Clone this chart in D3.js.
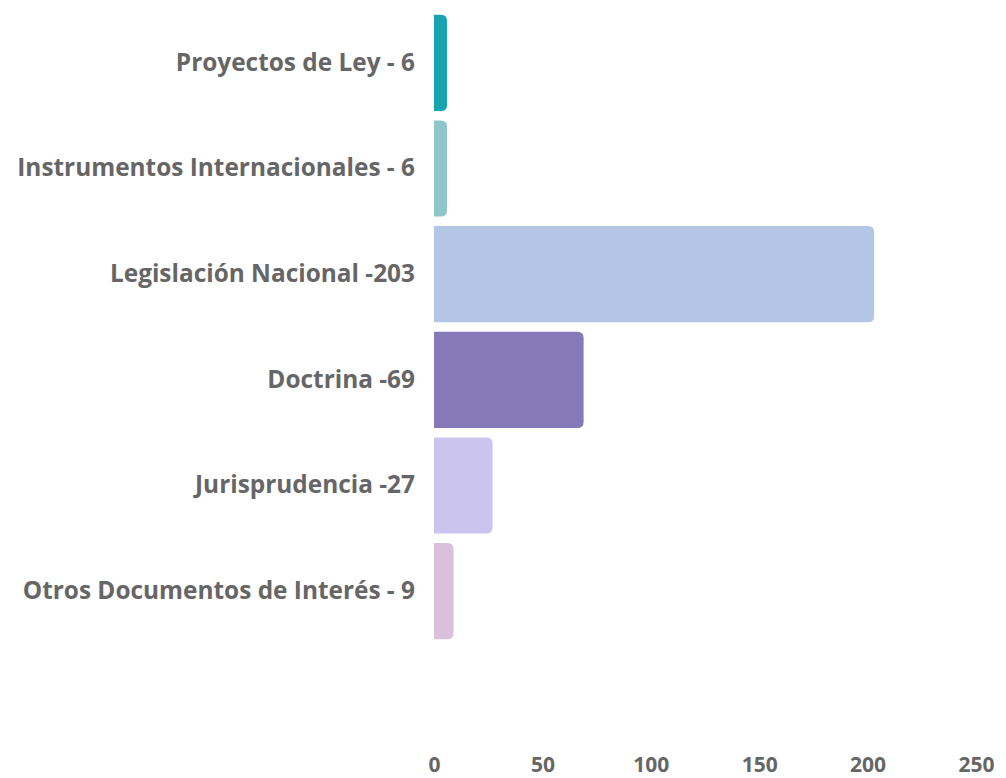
<!DOCTYPE html>
<html>
<head>
<meta charset="utf-8">
<script src="https://cdnjs.cloudflare.com/ajax/libs/d3/7.8.5/d3.min.js"></script>
<style>
  body { margin: 0; background: #fff; }
  text { font-family: "Open Sans", sans-serif; font-weight: 700; fill: #666; }
</style>
</head>
<body>
<svg id="chart" width="1006" height="778"></svg>
<script>
var categories = [
    'Proyectos de Ley - 6',
    'Instrumentos Internacionales - 6',
    'Legislación Nacional -203',
    'Doctrina -69',
    'Jurisprudencia -27',
    'Otros Documentos de Interés - 9'
];
var values = [6, 6, 203, 69, 27, 9];
var colors = ['#18a3b1', '#8fc6cc', '#b3c6e6', '#8579b8', '#cbc4ef', '#dac0da'];
var xTicks = [0, 50, 100, 150, 200, 250];

var svg = d3.select('#chart');

var x = d3.scaleLinear().domain([0, 250]).range([434, 976]);
var y = d3.scaleBand().domain(categories).range([10, 644])
    .paddingInner(0.09).paddingOuter(0.045);

// bar with rounded right corners only
function barPath(x0, x1, y0, h, r) {
    r = Math.min(r, (x1 - x0) / 2, h / 2);
    return 'M' + x0 + ',' + y0 +
        'H' + (x1 - r) +
        'Q' + x1 + ',' + y0 + ' ' + x1 + ',' + (y0 + r) +
        'V' + (y0 + h - r) +
        'Q' + x1 + ',' + (y0 + h) + ' ' + (x1 - r) + ',' + (y0 + h) +
        'H' + x0 + 'Z';
}

svg.append('g').selectAll('path')
    .data(values)
    .join('path')
    .attr('d', function (d, i) {
        return barPath(x(0), x(d), y(categories[i]), y.bandwidth(), 6);
    })
    .attr('fill', function (d, i) { return colors[i]; });

var yAxis = svg.append('g')
    .attr('transform', 'translate(' + x(0) + ',0)')
    .call(d3.axisLeft(y).tickSize(0).tickPadding(19));
yAxis.select('.domain').remove();
yAxis.selectAll('text').style('font-size', '24.4px').attr('fill', null);

var xAxis = svg.append('g')
    .attr('transform', 'translate(0,757)')
    .call(d3.axisBottom(x).tickValues(xTicks).tickSize(0).tickPadding(0));
xAxis.select('.domain').remove();
xAxis.selectAll('text').style('font-size', '21px').attr('fill', null);
</script>
</body>
</html>
